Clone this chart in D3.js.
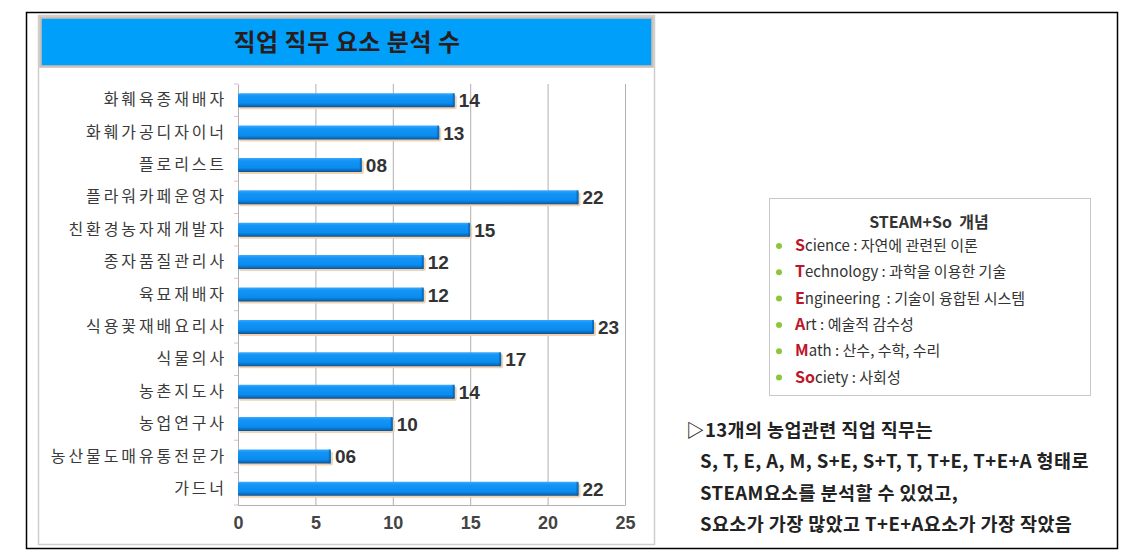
<!DOCTYPE html>
<html><head><meta charset="utf-8">
<script src="https://cdn.jsdelivr.net/npm/d3@7"></script>
<style>body{margin:0;background:#fff}svg{display:block}</style>
</head><body>
<script>
const categories = ["화훼육종재배자","화훼가공디자이너","플로리스트","플라워카페운영자","친환경농자재개발자","종자품질관리사","육묘재배자","식용꽃재배요리사","식물의사","농촌지도사","농업연구사","농산물도매유통전문가","가드너"];
const values = [14,13,8,22,15,12,12,23,17,14,10,6,22];
const tickValues = [0,5,10,15,20,25];
const title = "직업 직무 요소 분석 수";
const legendTitle = "STEAM+So  개념";
const legendKeys = ["S","T","E","A","M","So"];
const legendRest = ["cience : 자연에 관련된 이론","echnology : 과학을 이용한 기술","ngineering  : 기술이 융합된 시스템","rt : 예술적 감수성","ath : 산수, 수학, 수리","ciety : 사회성"];
const noteLines = ["▷13개의 농업관련 직업 직무는","S, T, E, A, M, S+E, S+T, T, T+E, T+E+A 형태로","STEAM요소를 분석할 수 있었고,","S요소가 가장 많았고 T+E+A요소가 가장 작았음"];

const W=1133,H=552;
const svg=d3.select("body").append("svg").attr("width",W).attr("height",H);
const KR='"Noto Sans CJK KR","Noto Sans",sans-serif';

const defs=svg.append("defs");
const g1=defs.append("linearGradient").attr("id","barg").attr("x1",0).attr("y1",0).attr("x2",0).attr("y2",1);
[[0,"#3aa8ff"],[0.2,"#1495f5"],[0.7,"#0a8cf0"],[0.88,"#0a6fc4"],[1,"#0b4f8f"]].forEach(s=>g1.append("stop").attr("offset",s[0]).attr("stop-color",s[1]));

// outer frame
svg.append("rect").attr("x",26.5).attr("y",12.5).attr("width",1091).attr("height",536).attr("fill","none").attr("stroke","#000").attr("stroke-width",1.5);
// chart panel
svg.append("rect").attr("x",38.5).attr("y",15.5).attr("width",616).attr("height",529).attr("fill","#fff").attr("stroke","#cfcfcf").attr("stroke-width",1.5);
svg.append("rect").attr("x",40.5).attr("y",17.5).attr("width",612).attr("height",49).attr("fill","#00a0fa").attr("stroke","#cdbfb5").attr("stroke-width",2.5);
svg.append("text").attr("x",347).attr("y",51).attr("text-anchor","middle").attr("font-family",KR).attr("font-weight","bold").attr("font-size",24).attr("letter-spacing","0.5px").attr("fill","#2a1c1c").text(title);

const x=d3.scaleLinear().domain([0,25]).range([238,625]);
const y=d3.scaleBand().domain(categories).range([84,505]);
const bh=14;

// grid
svg.append("g").selectAll("line").data(tickValues.slice(1)).join("line")
 .attr("x1",d=>x(d)+0.5).attr("x2",d=>x(d)+0.5).attr("y1",84).attr("y2",505).attr("stroke","#b0b0b0").attr("stroke-width",1);
// x axis
const xa=svg.append("g").attr("transform","translate(0,505)").call(d3.axisBottom(x).tickValues(tickValues).tickSize(0).tickPadding(11));
xa.select(".domain").attr("stroke","#b0b0b0");
xa.selectAll("text").attr("font-family","Liberation Sans, Arial, sans-serif").attr("font-weight","bold").attr("font-size",18).attr("fill","#444");
// y axis
const ya=svg.append("g").attr("transform","translate(238,0)").call(d3.axisLeft(y).tickSize(0).tickPadding(11));
ya.select(".domain").attr("stroke","#b0b0b0");
ya.selectAll("text").attr("font-family",KR).attr("font-size",16).attr("letter-spacing","2.9px").attr("fill","#3a3a3a");
svg.append("g").selectAll("line").data(categories.concat([null])).join("line")
 .attr("x1",234).attr("x2",238).attr("y1",(d,i)=>84+i*y.step()).attr("y2",(d,i)=>84+i*y.step()).attr("stroke","#e8b8c8");

// bars
const bars=svg.append("g");
bars.selectAll("rect.sh").data(values).join("rect").attr("class","sh")
 .attr("x",x(0)+1).attr("y",(d,i)=>y(categories[i])+y.bandwidth()/2-bh/2+2).attr("width",d=>x(d)-x(0)+1).attr("height",bh).attr("fill","#f2d2b0").attr("rx",2);
bars.selectAll("rect.b").data(values).join("rect").attr("class","b")
 .attr("x",x(0)).attr("y",(d,i)=>y(categories[i])+y.bandwidth()/2-bh/2).attr("width",d=>x(d)-x(0)).attr("height",bh).attr("fill","url(#barg)").attr("rx",1.5);
bars.selectAll("rect.e").data(values).join("rect").attr("class","e")
 .attr("x",d=>x(d)-2).attr("y",(d,i)=>y(categories[i])+y.bandwidth()/2-bh/2).attr("width",2).attr("height",bh).attr("fill","#0a5fa8").attr("opacity",0.7);
bars.selectAll("text").data(values).join("text")
 .attr("x",d=>x(d)+4).attr("y",(d,i)=>y(categories[i])+y.bandwidth()/2+7)
 .attr("font-family","Liberation Sans, Arial, sans-serif").attr("font-weight","bold").attr("font-size",19).attr("fill","#333")
 .text(d=>d3.format("02d")(d));

// legend box
svg.append("rect").attr("x",769.5).attr("y",198.5).attr("width",321).attr("height",197).attr("fill","#fff").attr("stroke","#c8c8c8");
svg.append("text").attr("x",929).attr("y",228).attr("text-anchor","middle").attr("font-family",KR).attr("font-weight","bold").attr("font-size",16).attr("fill","#333").attr("xml:space","preserve").text(legendTitle);
const li=svg.append("g").selectAll("g").data(legendKeys).join("g").attr("transform",(d,i)=>`translate(0,${251+i*26.3})`);
li.append("circle").attr("cx",779).attr("cy",-5).attr("r",3).attr("fill","#8cc63f");
const lt=li.append("text").attr("x",795).attr("y",0).attr("font-family",KR).attr("font-size",15).attr("fill","#333").attr("xml:space","preserve");
lt.append("tspan").attr("fill","#c0142a").attr("font-size",16).attr("font-weight","bold").text(d=>d);
lt.append("tspan").text((d,i)=>legendRest[i]);

// notes
svg.append("g").selectAll("text").data(noteLines).join("text")
 .attr("x",(d,i)=>i===0?686:700).attr("y",(d,i)=>437+i*31.3)
 .attr("font-family",KR).attr("font-weight","bold").attr("font-size",18.5).attr("letter-spacing","0.4px").attr("fill","#222")
 .text(d=>d);
</script>
</body></html>
